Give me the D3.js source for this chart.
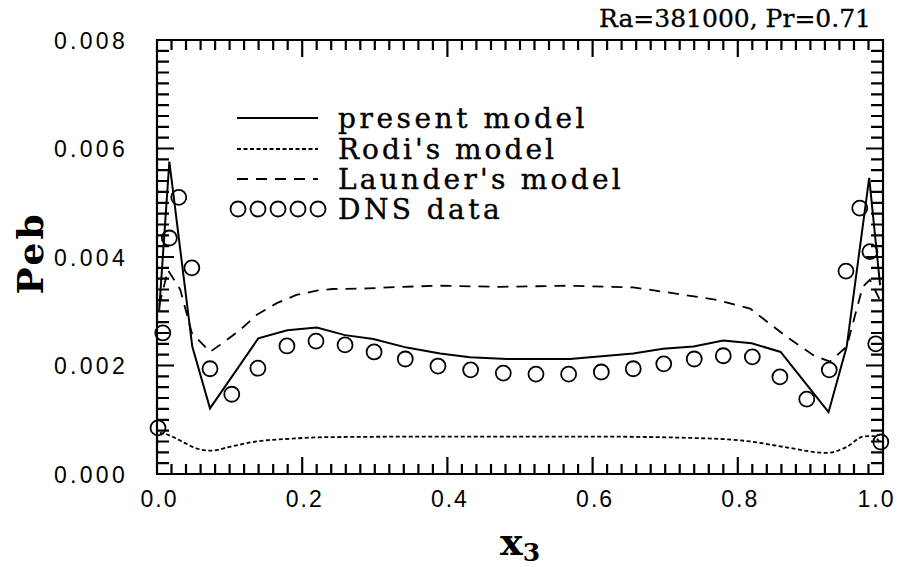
<!DOCTYPE html>
<html><head><meta charset="utf-8">
<script src="https://cdn.jsdelivr.net/npm/d3@7"></script>
</head>
<body style="margin:0">
<svg id="chart" width="898" height="567"></svg>
<script>
// ---- data ----
const presentX = [0.003,0.017,0.0486,0.073,0.1395,0.1795,0.22,0.259,0.298,0.344,0.39,0.431,0.482,0.569,0.656,0.697,0.739,0.78,0.819,0.859,0.925,0.95,0.981,0.996];
const presentY = [0.00302,0.00576,0.00235,0.00121,0.0025,0.00265,0.0027,0.00256,0.00249,0.00233,0.00222,0.00215,0.00212,0.00212,0.00222,0.00231,0.00235,0.00246,0.00241,0.00225,0.00114,0.00235,0.00546,0.00348];

const rodiX = [0.004,0.011,0.0225,0.0386,0.0547,0.075,0.1,0.137,0.183,0.238,0.4,0.6,0.748,0.817,0.863,0.922,0.95,0.973,0.987,0.996];
const rodiY = [0.00076,0.00074,0.00068,0.00057,0.00047,0.00043,0.0005,0.0006,0.00065,0.00068,0.00069,0.00069,0.00066,0.0006,0.0005,0.00039,0.0005,0.00069,0.0007,0.00057];

const launderX = [0.003,0.015,0.032,0.048,0.073,0.0868,0.114,0.137,0.165,0.192,0.22,0.242,0.289,0.335,0.39,0.472,0.564,0.656,0.702,0.771,0.817,0.867,0.904,0.927,0.95,0.972,0.982,0.996];
const launderY = [0.0031,0.00376,0.0034,0.0026,0.00225,0.00238,0.00265,0.00293,0.00315,0.0033,0.00338,0.00341,0.00342,0.00345,0.00347,0.00345,0.00347,0.00344,0.00335,0.00321,0.00305,0.00253,0.00219,0.00207,0.00235,0.00345,0.00358,0.0032];

const dnsX = [0.0014,0.008,0.017,0.030,0.048,0.073,0.103,0.139,0.179,0.219,0.259,0.299,0.342,0.387,0.432,0.477,0.522,0.567,0.612,0.656,0.698,0.740,0.780,0.820,0.858,0.895,0.926,0.949,0.968,0.982,0.990,0.997];
const dnsY = [0.00085,0.0026,0.00435,0.0051,0.0038,0.00194,0.00147,0.00195,0.00236,0.00245,0.00238,0.00225,0.00212,0.00199,0.00192,0.00186,0.00184,0.00184,0.00188,0.00194,0.00203,0.00212,0.00218,0.00216,0.00179,0.00138,0.00192,0.00374,0.0049,0.0041,0.0024,0.00059];

const xMajorTicks = [0,0.2,0.4,0.6,0.8,1.0];
const yMajorTicks = [0,0.002,0.004,0.006,0.008];
const legendLabels = ["present model","Rodi's model","Launder's model","DNS data"];
const titleText = "Ra=381000,  Pr=0.71";

// ---- layout ----
const svg = d3.select("#chart");
const L = 157, R = 883, T = 40, B = 474;
const x = d3.scaleLinear().domain([0,1]).range([L,R]);
const y = d3.scaleLinear().domain([0,0.008]).range([B,T]);

const xMinor = d3.range(0,51).map(i=>i*0.02);
const yMinor = d3.range(0,41).map(i=>i*0.0002);
const isXMajor = v => Math.abs(v*5 - Math.round(v*5)) < 1e-6;
const isYMajor = v => Math.abs(v*500 - Math.round(v*500)) < 1e-6;

// frame + inward tick marks on all four sides, in one path
let frameD = `M${L},${T}H${R}V${B}H${L}Z`;
xMinor.forEach(v=>{
  const len = isXMajor(v)?17:10, px = x(v).toFixed(1);
  frameD += `M${px},${B}V${B-len}M${px},${T}V${T+len}`;
});
yMinor.forEach(v=>{
  const len = isYMajor(v)?17:12, py = y(v).toFixed(1);
  frameD += `M${L},${py}H${L+len}M${R},${py}H${R-len}`;
});
svg.append("path").attr("d",frameD)
  .attr("fill","none").attr("stroke","#000").attr("stroke-width",2.2);

function fitSpacing(sel, target){
  sel.each(function(){
    const w = this.getComputedTextLength();
    const n = this.textContent.length;
    const ls = (target - w)/Math.max(1,n);
    d3.select(this).attr("letter-spacing", ls.toFixed(2)+"px");
  });
}

// tick labels via axes (labels only)
const gxb = svg.append("g").attr("transform",`translate(0,${B})`)
  .call(d3.axisBottom(x).tickValues(xMajorTicks).tickSize(0).tickPadding(17).tickFormat(d3.format(".1f")));
const gyl = svg.append("g").attr("transform",`translate(${L},0)`)
  .call(d3.axisLeft(y).tickValues(yMajorTicks).tickSize(0).tickPadding(29).tickFormat(d3.format(".3f")));
[gxb,gyl].forEach(g=>{
  g.select(".domain").remove();
  g.selectAll(".tick line").remove();
  g.selectAll("text")
   .attr("font-family","Liberation Sans")
   .attr("font-size",23).attr("fill","#000");
});
gyl.selectAll("text").attr("dy","0.36em");
fitSpacing(gyl.selectAll("text"), 74);
fitSpacing(gxb.selectAll("text"), 38);
gxb.selectAll("text").attr("text-anchor","start").attr("x",-17);
gxb.selectAll(".tick").filter(d=>d===1).select("text").attr("x",-26);

// ---- series ----
const zip = (a,b)=>a.map((v,i)=>[v,b[i]]);
const lineLin = d3.line().x(d=>x(d[0])).y(d=>y(d[1]));
const lineSmooth = d3.line().x(d=>x(d[0])).y(d=>y(d[1])).curve(d3.curveMonotoneX);
const plot = svg.append("g");
plot.append("path").datum(zip(presentX,presentY)).attr("d",lineLin)
  .attr("fill","none").attr("stroke","#000").attr("stroke-width",2);
plot.append("path").datum(zip(rodiX,rodiY)).attr("d",lineSmooth)
  .attr("fill","none").attr("stroke","#000").attr("stroke-width",1.8).attr("stroke-dasharray","4,2.5");
plot.append("path").datum(zip(launderX,launderY)).attr("d",lineLin)
  .attr("fill","none").attr("stroke","#000").attr("stroke-width",1.8).attr("stroke-dasharray","11,8");
plot.selectAll("circle.dns").data(zip(dnsX,dnsY)).join("circle").attr("class","dns")
  .attr("cx",d=>x(d[0])).attr("cy",d=>y(d[1])).attr("r",7.5)
  .attr("fill","none").attr("stroke","#000").attr("stroke-width",1.8);

// ---- legend ----
const serif = "DejaVu Serif";
const legY = [118,149,179,209];
const lx0 = 237, lx1 = 318, ltx = 338;
const lg = svg.append("g");
lg.append("line").attr("x1",lx0).attr("x2",lx1).attr("y1",legY[0]).attr("y2",legY[0]).attr("stroke","#000").attr("stroke-width",2);
lg.append("line").attr("x1",lx0).attr("x2",lx1).attr("y1",legY[1]).attr("y2",legY[1]).attr("stroke","#000").attr("stroke-width",1.8).attr("stroke-dasharray","4,2.5");
lg.append("line").attr("x1",lx0).attr("x2",lx1).attr("y1",legY[2]).attr("y2",legY[2]).attr("stroke","#000").attr("stroke-width",1.8).attr("stroke-dasharray","11,8");
lg.selectAll("circle").data(d3.range(5)).join("circle")
  .attr("cx",i=>238+i*20).attr("cy",legY[3]).attr("r",7.5)
  .attr("fill","none").attr("stroke","#000").attr("stroke-width",1.8);
const legW = [250,219,286,165];
const legText = lg.selectAll("text").data(legendLabels).join("text")
  .attr("x",ltx).attr("y",(d,i)=>legY[i]+10)
  .attr("font-family",serif).attr("font-size",28).attr("fill","#000")
  .attr("stroke","#000").attr("stroke-width",0.4)
  .text(d=>d);
legText.each(function(d,i){ fitSpacing(d3.select(this), legW[i]); });

// ---- titles ----
svg.append("text").attr("x",871).attr("y",27).attr("text-anchor","end")
  .attr("font-family",serif).attr("font-size",25).attr("fill","#000")
  .attr("stroke","#000").attr("stroke-width",0.3)
  .text(titleText);
svg.append("text").attr("transform","translate(43,253) rotate(-90)").attr("text-anchor","middle")
  .attr("font-family",serif).attr("font-size",36).attr("font-weight","bold").attr("fill","#000")
  .attr("letter-spacing","3px")
  .text("Peb");
const xt = svg.append("text").attr("x",520).attr("y",555).attr("text-anchor","middle")
  .attr("font-family",serif).attr("font-size",38).attr("font-weight","bold").attr("fill","#000");
xt.append("tspan").text("x");
xt.append("tspan").attr("font-size",25).attr("dy",6).text("3");
</script>
</body></html>
